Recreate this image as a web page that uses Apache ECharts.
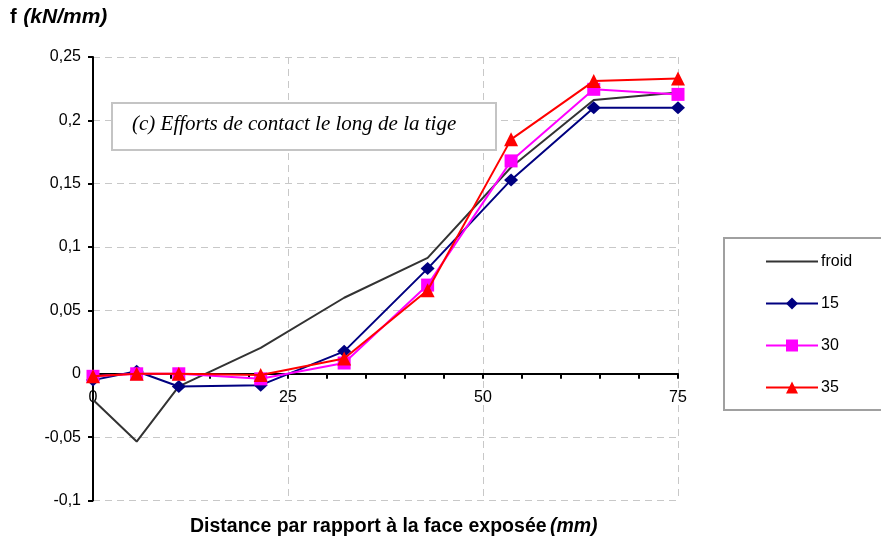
<!DOCTYPE html>
<html>
<head>
<meta charset="utf-8">
<script src="https://cdn.jsdelivr.net/npm/echarts@6/dist/echarts.min.js"></script>
<style>
  html, body { margin: 0; padding: 0; background: #fff; }
  #chart { width: 881px; height: 545px; }
</style>
</head>
<body>
<div id="chart"></div>
<script>
// Distance from the exposed face (mm)
const distances = [0, 5.6, 11, 21.5, 32.2, 42.9, 53.6, 64.2, 75];

// Contact force f (kN/mm) for each case
const froid = [-0.0205, -0.0535, -0.01, 0.0205, 0.06, 0.0915, 0.163, 0.216, 0.222];
const f15   = [-0.005, 0.002, -0.01, -0.009, 0.0177, 0.083, 0.153, 0.21, 0.21];
const f30   = [-0.002, 0.0, 0.0, -0.004, 0.0085, 0.07, 0.168, 0.2245, 0.2205];
const f35   = [-0.002, 0.0, 0.0, -0.001, 0.012, 0.066, 0.185, 0.231, 0.233];

const seriesNames = ['froid', '15', '30', '35'];
const yTicks = { min: -0.1, max: 0.25, step: 0.05 };
const xTicks = { min: 0, max: 75, step: 25 };

const pairs = vals => distances.map((d, i) => [d, vals[i]]);
const fmtComma = v => String(parseFloat(v.toFixed(2))).replace('.', ',');

const FONT = 'Liberation Sans, Arial, sans-serif';
const gridDash = { color: '#c8c8c8', width: 1, type: [7, 5] };

const chart = echarts.init(document.getElementById('chart'));
chart.setOption({
  animation: false,
  backgroundColor: '#fff',
  grid: { left: 93, right: 203, top: 57, bottom: 44.5, containLabel: false },
  xAxis: {
    type: 'value',
    min: xTicks.min, max: xTicks.max, interval: xTicks.step,
    axisLine: { onZero: true, lineStyle: { color: '#000', width: 2 } },
    axisTick: { show: true, length: 5, lineStyle: { color: '#000', width: 2 } },
    minorTick: { show: true, splitNumber: 5, length: 5, lineStyle: { color: '#000', width: 2 } },
    // labels sit just under the zero line, not at the bottom of the grid
    axisLabel: { fontFamily: FONT, fontSize: 16, color: '#000', margin: -111 },
    splitLine: { show: true, lineStyle: gridDash }
  },
  yAxis: {
    type: 'value',
    min: yTicks.min, max: yTicks.max, interval: yTicks.step,
    axisLine: { show: true, onZero: false, lineStyle: { color: '#000', width: 2 } },
    axisTick: { show: true, length: 5, lineStyle: { color: '#000', width: 2 } },
    axisLabel: { fontFamily: FONT, fontSize: 16, color: '#000', margin: 12, formatter: fmtComma },
    splitLine: { show: true, lineStyle: gridDash }
  },
  legend: {
    orient: 'vertical',
    left: 765, top: 253.5, padding: 0,
    itemWidth: 52, itemHeight: 15, itemGap: 26,
    textStyle: { fontFamily: FONT, fontSize: 16, color: '#000', padding: [0, 0, 0, -2] },
    data: [
      { name: 'froid', itemStyle: { color: 'rgba(0,0,0,0)', borderWidth: 0 } },
      '15', '30', '35'
    ]
  },
  graphic: [
    {
      type: 'rect', z: 1,
      shape: { x: 724, y: 238, width: 170, height: 172 },
      style: { fill: '#fff', stroke: '#a0a0a0', lineWidth: 2 }
    },
    {
      type: 'rect', z: 1,
      shape: { x: 112, y: 103, width: 384, height: 47 },
      style: { fill: '#fff', stroke: '#c4c4c4', lineWidth: 2 }
    },
    {
      type: 'text', z: 2, left: 132, top: 114,
      style: { text: '(c) Efforts de contact le long de la tige', font: 'italic 21px "Liberation Serif", "Times New Roman", serif', fill: '#000' }
    },
    {
      type: 'text', z: 2, left: 10, top: 7,
      style: {
        text: '{b|f}  {bi|(kN/mm)}',
        rich: {
          b: { font: 'bold 20px ' + FONT, fill: '#000' },
          bi: { font: 'italic bold 21px ' + FONT, fill: '#000' }
        }
      }
    },
    {
      type: 'text', z: 2, left: 190, top: 517,
      style: {
        text: '{b|Distance par rapport à la face exposée} {bi|(mm)}',
        rich: {
          b: { font: 'bold 19.5px ' + FONT, fill: '#000' },
          bi: { font: 'italic bold 19.5px ' + FONT, fill: '#000' }
        }
      }
    }
  ],
  series: [
    {
      name: 'froid', type: 'line', data: pairs(froid), z: 3,
      symbol: 'none', lineStyle: { color: '#333333', width: 2 }, itemStyle: { color: '#333333' }
    },
    {
      name: '15', type: 'line', data: pairs(f15), z: 4,
      symbol: 'diamond', symbolSize: [14, 13], showAllSymbol: true,
      lineStyle: { color: '#000080', width: 2 }, itemStyle: { color: '#000080' }
    },
    {
      name: '30', type: 'line', data: pairs(f30), z: 5,
      symbol: 'rect', symbolSize: 13, showAllSymbol: true,
      lineStyle: { color: '#ff00ff', width: 2 }, itemStyle: { color: '#ff00ff' }
    },
    {
      name: '35', type: 'line', data: pairs(f35), z: 6,
      symbol: 'triangle', symbolSize: 14, showAllSymbol: true,
      lineStyle: { color: '#ff0000', width: 2 }, itemStyle: { color: '#ff0000' }
    }
  ]
});
</script>
</body>
</html>
